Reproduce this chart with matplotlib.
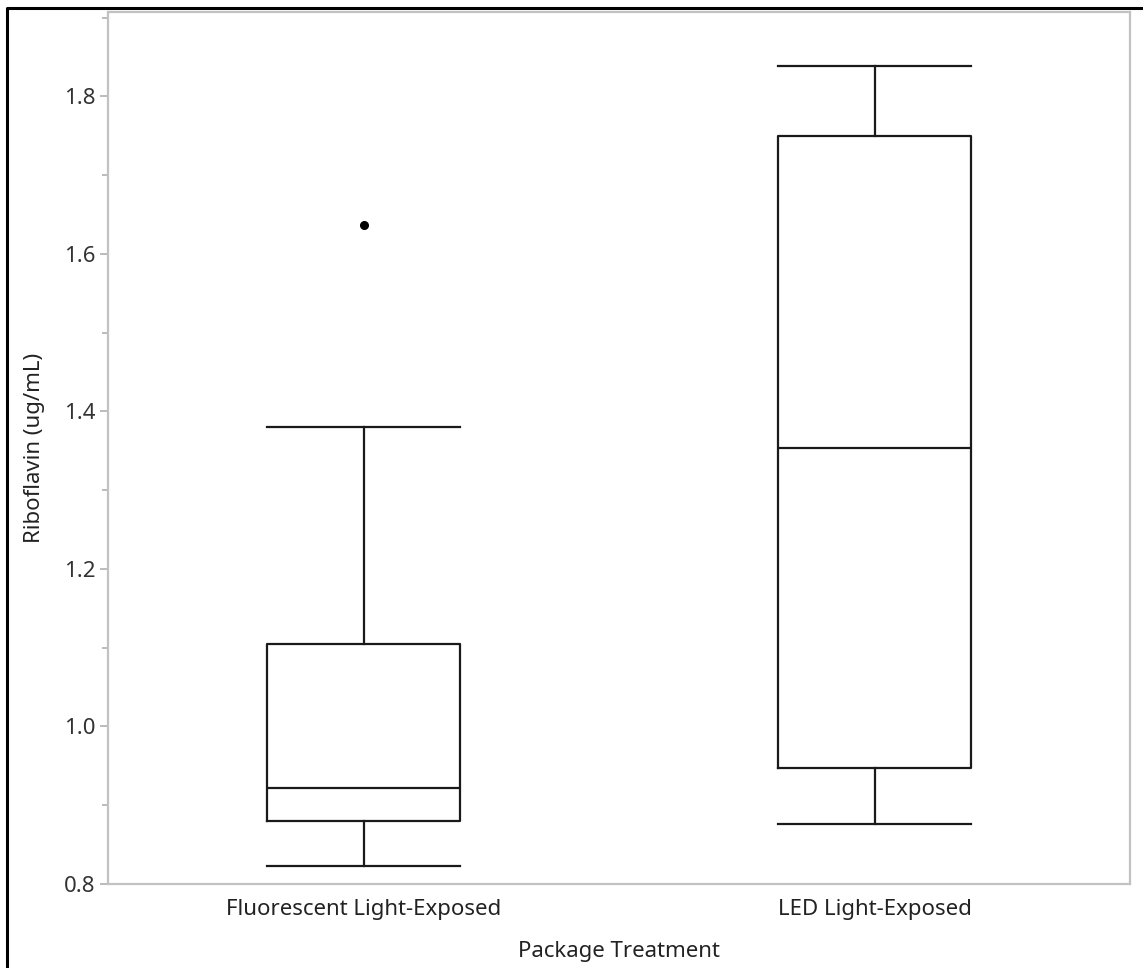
import matplotlib as mpl
import matplotlib.pyplot as plt
from matplotlib.lines import Line2D
from matplotlib.ticker import MultipleLocator

mpl.rcParams.update(
    {
        "font.family": ["Noto Sans", "DejaVu Sans"],
        "axes.linewidth": 1.6,
    }
)

# box-plot summary values
groups = ["Fluorescent Light-Exposed", "LED Light-Exposed"]
whisker_low = [0.823, 0.876]
q1 = [0.880, 0.947]
median = [0.922, 1.353]
q3 = [1.105, 1.750]
whisker_high = [1.380, 1.838]
outliers = [[1.636], []]

stats = [
    {"label": g, "whislo": lo, "q1": a, "med": m, "q3": b, "whishi": hi, "fliers": f}
    for g, lo, a, m, b, hi, f in zip(groups, whisker_low, q1, median, q3, whisker_high, outliers)
]

W, H = 1143, 968
fig = plt.figure(figsize=(W / 100, H / 100), dpi=100)
ax = fig.add_axes([108 / W, (H - 884) / H, (1130 - 108) / W, (884 - 12) / H])

line = dict(color="#1a1a1a", linewidth=1.6)
ax.bxp(
    stats,
    positions=[1, 2],
    widths=0.376,
    capwidths=0.376,
    boxprops=line,
    whiskerprops=line,
    capprops=line,
    medianprops=line,
    flierprops=dict(marker="o", markersize=5.5, markerfacecolor="black", markeredgecolor="black"),
)

ax.set_xlim(0.5, 2.5)
ax.set_ylim(0.8, 1.907)
ax.yaxis.set_major_locator(MultipleLocator(0.2))
ax.yaxis.set_minor_locator(MultipleLocator(0.1))
ax.yaxis.set_major_formatter(mpl.ticker.FormatStrFormatter("%.1f"))
ax.set_xticks([1, 2], groups)

for s in ax.spines.values():
    s.set_color("#c2c2c2")
ax.tick_params(axis="y", which="major", length=6, width=1.2, color="#b0b0b0",
               labelsize=16, labelcolor="#333333", pad=3)
ax.tick_params(axis="y", which="minor", length=4, width=1.2, color="#b0b0b0")
ax.tick_params(axis="x", length=0, labelsize=16, labelcolor="#222222", pad=11)

ax.set_ylabel("Riboflavin (ug/mL)", fontsize=16, color="#222222", labelpad=14)
ax.set_xlabel("Package Treatment", fontsize=16, color="#222222", labelpad=15)

# outer frame of the screenshot (left and top edges)
fig.add_artist(Line2D([7 / W, 7 / W, 1.0], [0.0, 1 - 8 / H, 1 - 8 / H],
                      transform=fig.transFigure, color="black", linewidth=2.2))

fig.savefig("out.png", dpi=100)
